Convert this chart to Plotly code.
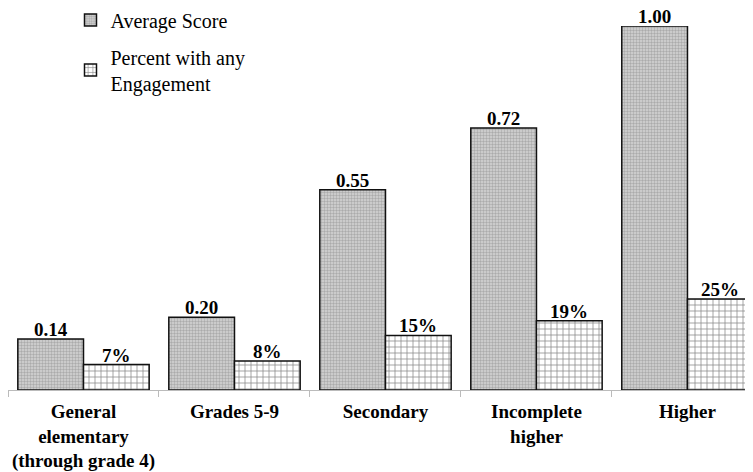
import plotly.graph_objects as go

categories = ["General<br>elementary<br>(through grade 4)", "Grades 5-9", "Secondary",
              "Incomplete<br>higher", "Higher"]
avg_score = [0.14, 0.20, 0.55, 0.72, 1.00]
pct_engaged = [7, 8, 15, 19, 25]

FONT = "Times New Roman, Liberation Serif, Times, serif"
BARGAP = 0.13

fig = go.Figure()
fig.add_trace(go.Bar(
    name="Average Score", legendgroup="a",
    x=categories, y=avg_score,
    marker=dict(color="#bdbdbd", line=dict(color="#111111", width=1.5),
                pattern=dict(shape=".", size=3, solidity=0.5, fgcolor="#808080", bgcolor="#d6d6d6")),
))
pct_frac = [p / 100 for p in pct_engaged]
fig.add_trace(go.Bar(
    name="Percent with any<br>Engagement", legendgroup="b",
    x=categories, y=pct_frac,
    marker=dict(color="white", line=dict(color="#111111", width=1.5),
                pattern=dict(shape="+", size=6, solidity=0.24, fgcolor="#111111", bgcolor="white")),
))

# value labels as annotations above each bar (offset within each category group)
half = (1 - BARGAP) / 4
for i, c in enumerate(categories):
    for off, val, txt in ((-half, avg_score[i], f"{avg_score[i]:.2f}"),
                          (half, pct_frac[i], f"{pct_engaged[i]}%")):
        fig.add_annotation(x=i + off, y=val, xref="x", yref="y",
                           text=f"<b>{txt}</b>", showarrow=False,
                           yanchor="bottom", yshift=-2, borderpad=0,
                           font=dict(family=FONT, size=19, color="black"))

fig.update_layout(
    width=753, height=472,
    margin=dict(l=0, r=0, t=18, b=90, autoexpand=False),
    plot_bgcolor="white", paper_bgcolor="white",
    barmode="group", bargap=BARGAP, bargroupgap=0,
    font=dict(family=FONT, color="black"),
    showlegend=True,
    legend=dict(x=0.083, y=1.07, xanchor="left", yanchor="top",
                traceorder="grouped",
                font=dict(family=FONT, size=20, color="black"),
                bgcolor="rgba(0,0,0,0)", tracegroupgap=8),
    xaxis=dict(range=[-0.5, 4.487], showline=True, linecolor="#bbbbbb", linewidth=1,
               ticks="outside", tickson="boundaries", ticklen=6, tickcolor="#bbbbbb",
               tickangle=0, ticklabelstandoff=4,
               tickfont=dict(family=FONT, size=19, color="black"),
               tickvals=list(range(len(categories))),
               ticktext=[f"<b>{c}</b>".replace("<br>", "</b><br><b>") for c in categories],
               showgrid=False, automargin=False),
    yaxis=dict(range=[0, 1.0], visible=False, showgrid=False),
)

fig.write_html("out.html")
